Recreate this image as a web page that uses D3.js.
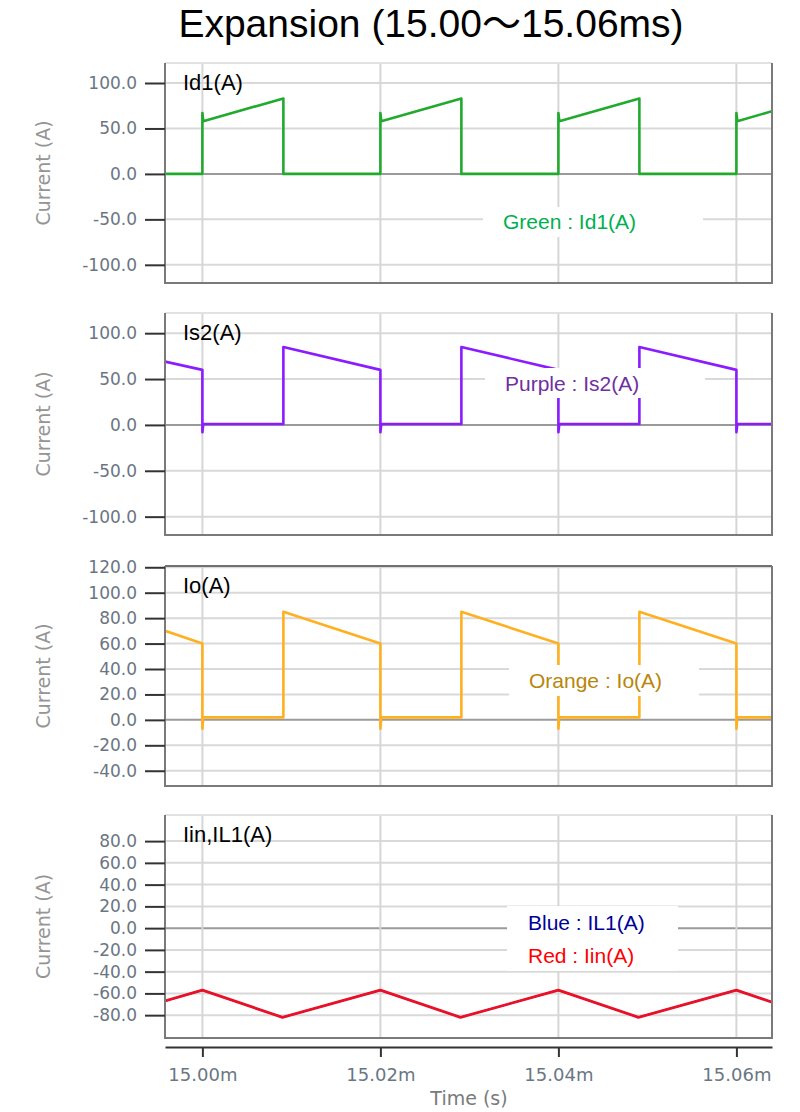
<!doctype html>
<html>
<head>
<style>
body { margin: 0; background: #fff; }
svg { font-family: "DejaVu Sans", sans-serif; }
</style>
<script src="https://d3js.org/d3.v7.min.js"></script>
</head>
<body>
<svg width="800" height="1112"></svg>
<script>
// time axis in ms
var timeTicks = [15.00, 15.02, 15.04, 15.06];

var id1Time  = [14.9958, 15.0000, 15.0000, 15.0001, 15.0091, 15.0091, 15.0200, 15.0200, 15.0201, 15.0291, 15.0291, 15.0400, 15.0400, 15.0401, 15.0491, 15.0491, 15.0600, 15.0600, 15.0601, 15.0640];
var id1Value = [0, 0, 67, 58, 83, 0, 0, 67, 58, 83, 0, 0, 67, 58, 83, 0, 0, 67, 58, 69];

var is2Time  = [14.9958, 15.0000, 15.0000, 15.0001, 15.0091, 15.0091, 15.0200, 15.0200, 15.0201, 15.0291, 15.0291, 15.0400, 15.0400, 15.0401, 15.0491, 15.0491, 15.0600, 15.0600, 15.0601, 15.0640];
var is2Value = [69, 60, -8, 1, 1, 85, 60, -8, 1, 1, 85, 60, -8, 1, 1, 85, 60, -8, 1, 1];

var ioTime  = [14.9958, 15.0000, 15.0000, 15.0001, 15.0091, 15.0091, 15.0200, 15.0200, 15.0201, 15.0291, 15.0291, 15.0400, 15.0400, 15.0401, 15.0491, 15.0491, 15.0600, 15.0600, 15.0601, 15.0640];
var ioValue = [70, 60, -7, 2, 2, 85, 60, -7, 2, 2, 85, 60, -7, 2, 2, 85, 60, -7, 2, 2];

var iinTime  = [14.9958, 15.0000, 15.0090, 15.0200, 15.0290, 15.0400, 15.0490, 15.0600, 15.0640];
var iinValue = [-67, -57, -82, -57, -82, -57, -82, -57, -68];
var il1Value = [-67, -57, -82, -57, -82, -57, -82, -57, -68];

var ticksId1 = [100, 50, 0, -50, -100];
var ticksIs2 = [100, 50, 0, -50, -100];
var ticksIo  = [120, 100, 80, 60, 40, 20, 0, -20, -40];
var ticksIin = [80, 60, 40, 20, 0, -20, -40, -60, -80];

var svg = d3.select("svg");
var left = 165, right = 772;

var x = d3.scaleLinear().domain([14.9958, 15.0640]).range([left, right]);

var panels = [
  { label: "Id1(A)", top: 63, bottom: 283, domain: [-120, 122], ticks: ticksId1, topDark: false,
    series: [{ t: id1Time, v: id1Value, color: "#22aa2e", w: 2.6 }],
    legend: { x: 483, y: 207, w: 220, h: 30, items: [["Green : Id1(A)", "#00b050", 503, 229]] } },
  { label: "Is2(A)", top: 313, bottom: 535, domain: [-120, 122], ticks: ticksIs2, topDark: false,
    series: [{ t: is2Time, v: is2Value, color: "#8a1cff", w: 2.6 }],
    legend: { x: 485, y: 368, w: 220, h: 30, items: [["Purple : Is2(A)", "#7030a0", 505, 391]] } },
  { label: "Io(A)", top: 566, bottom: 786, domain: [-52, 121], ticks: ticksIo, topDark: true,
    series: [{ t: ioTime, v: ioValue, color: "#ffb020", w: 2.6 }],
    legend: { x: 509, y: 665, w: 190, h: 31, items: [["Orange : Io(A)", "#b8860b", 529, 688]] } },
  { label: "Iin,IL1(A)", top: 815, bottom: 1038, domain: [-101, 104], ticks: ticksIin, topDark: false,
    series: [{ t: iinTime, v: il1Value, color: "#1a1ab0", w: 1.6 }, { t: iinTime, v: iinValue, color: "#ea1028", w: 2.8 }],
    legend: { x: 507, y: 906, w: 171, h: 65, items: [["Blue : IL1(A)", "#000099", 528, 930], ["Red : Iin(A)", "#ff0000", 528, 963]] } }
];

var title = svg.append("text")
  .attr("x", 431).attr("y", 37)
  .attr("text-anchor", "middle")
  .style("font-family", "'Liberation Sans', Arial, sans-serif")
  .style("font-size", "39px")
  .attr("fill", "#000");
title.append("tspan").text("Expansion (15.00");
title.append("tspan").style("font-family", "'Noto Sans CJK JP', sans-serif").text("～");
title.append("tspan").text("15.06ms)");

panels.forEach(function(p, i) {
  var y = d3.scaleLinear().domain(p.domain).range([p.bottom, p.top]);
  var g = svg.append("g");

  g.append("clipPath").attr("id", "clip" + i)
    .append("rect").attr("x", left).attr("y", p.top)
    .attr("width", right - left).attr("height", p.bottom - p.top);

  // grid
  g.selectAll(".hgrid").data(p.ticks).enter().append("line")
    .attr("x1", left).attr("x2", right)
    .attr("y1", function(d) { return y(d); }).attr("y2", function(d) { return y(d); })
    .attr("stroke", function(d) { return d === 0 ? "#9a9a9a" : "#d9d9d9"; })
    .attr("stroke-width", 2);
  g.selectAll(".vgrid").data(timeTicks).enter().append("line")
    .attr("x1", function(d) { return x(d); }).attr("x2", function(d) { return x(d); })
    .attr("y1", p.top).attr("y2", p.bottom)
    .attr("stroke", "#d6d6d6").attr("stroke-width", 2);

  // waveforms
  var line = d3.line().x(function(d) { return x(d[0]); }).y(function(d) { return y(d[1]); });
  p.series.forEach(function(s) {
    g.append("path")
      .datum(d3.zip(s.t, s.v))
      .attr("clip-path", "url(#clip" + i + ")")
      .attr("fill", "none")
      .attr("stroke", s.color)
      .attr("stroke-width", s.w)
      .attr("stroke-linejoin", "round")
      .attr("d", line);
  });

  // legend
  g.append("rect")
    .attr("x", p.legend.x).attr("y", p.legend.y)
    .attr("width", p.legend.w).attr("height", p.legend.h)
    .attr("fill", "#fff");
  p.legend.items.forEach(function(it) {
    g.append("text")
      .attr("x", it[2]).attr("y", it[3])
      .style("font-family", "'Liberation Sans', Arial, sans-serif")
      .style("font-size", "21px")
      .attr("fill", it[1])
      .text(it[0]);
  });

  // frame
  g.append("line").attr("x1", left).attr("x2", right).attr("y1", p.top).attr("y2", p.top)
    .attr("stroke", p.topDark ? "#707070" : "#e2e2e2").attr("stroke-width", 2);
  g.append("path")
    .attr("d", "M" + left + "," + p.top + "V" + p.bottom + "H" + right + "V" + p.top)
    .attr("fill", "none").attr("stroke", "#7a7a7a").attr("stroke-width", 2);

  // y axis
  var ax = g.append("g").attr("transform", "translate(" + left + ",0)")
    .call(d3.axisLeft(y).tickValues(p.ticks).tickSize(20).tickPadding(8)
      .tickFormat(function(d) { return d.toFixed(1); }));
  ax.select(".domain").remove();
  ax.selectAll(".tick line").attr("stroke", "#333").attr("stroke-width", 2);
  ax.selectAll(".tick text")
    .style("font-family", "'DejaVu Sans', sans-serif")
    .style("font-size", "17px")
    .attr("fill", "#6b7683");

  g.append("text")
    .attr("transform", "translate(50," + ((p.top + p.bottom) / 2) + ") rotate(-90)")
    .attr("text-anchor", "middle")
    .style("font-size", "19px")
    .attr("fill", "#959595")
    .text("Current (A)");

  g.append("text")
    .attr("x", 183).attr("y", p.top + 27)
    .style("font-family", "'Liberation Sans', Arial, sans-serif")
    .style("font-size", "22px")
    .attr("fill", "#000")
    .text(p.label);
});

// time axis
var xa = svg.append("g").attr("transform", "translate(0,1047)")
  .call(d3.axisBottom(x).tickValues(timeTicks).tickSize(10).tickSizeOuter(0).tickPadding(11)
    .tickFormat(function(d) { return d.toFixed(2) + "m"; }));
xa.select(".domain").attr("stroke", "#333").attr("stroke-width", 2);
xa.selectAll(".tick line").attr("stroke", "#333").attr("stroke-width", 2);
xa.selectAll(".tick text")
  .style("font-family", "'DejaVu Sans', sans-serif")
  .style("font-size", "18px")
  .attr("fill", "#6b7683");

svg.append("text")
  .attr("x", 469).attr("y", 1105)
  .attr("text-anchor", "middle")
  .style("font-size", "19px")
  .attr("fill", "#7a7a7a")
  .text("Time (s)");
</script>
</body>
</html>
